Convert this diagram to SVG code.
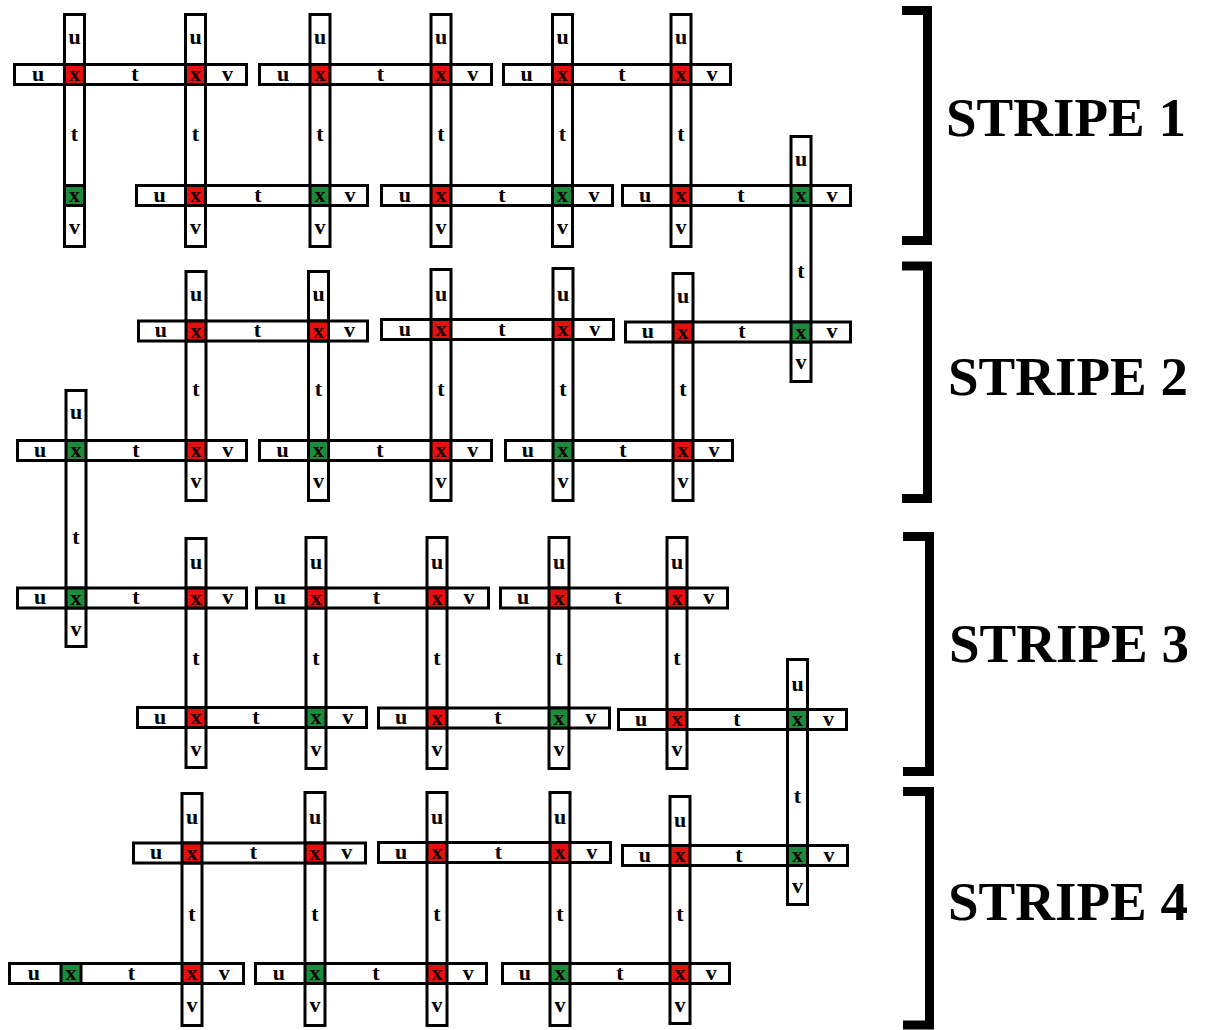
<svg xmlns="http://www.w3.org/2000/svg" width="1210" height="1030" viewBox="0 0 1210 1030">
<style>
.b{fill:#fff;stroke:#000;stroke-width:3}
.r{fill:#e3120f;stroke:#000;stroke-width:3}
.g{fill:#1c8c3c;stroke:#000;stroke-width:3}
text{font-family:"Liberation Serif","Times New Roman",serif;font-weight:bold;fill:#000}
.l{font-size:22px;text-anchor:middle;transform:translate(0px,1px)}
.x{font-size:22px;text-anchor:middle;fill:#1a0000;transform:translate(0px,1.5px)}
.s{font-size:55px}
.k{fill:none;stroke:#000;stroke-width:9;stroke-linejoin:miter}
</style>
<rect width="1210" height="1030" fill="#fff"/>
<!-- vertical bars -->
<g id="vbars">
<g id="v1-1"><rect class="b" x="64.5" y="14.5" width="20" height="232"/><text class="l" x="74.5" y="43">u</text><text class="l" x="74.5" y="140">t</text><text class="l" x="74.5" y="232.5">v</text></g>
<g id="v1-2"><rect class="b" x="185.5" y="14.5" width="20" height="232"/><text class="l" x="195.5" y="43">u</text><text class="l" x="195.5" y="140">t</text><text class="l" x="195.5" y="232.5">v</text></g>
<g id="v1-3"><rect class="b" x="310" y="14.5" width="20" height="232"/><text class="l" x="320" y="43">u</text><text class="l" x="320" y="140">t</text><text class="l" x="320" y="232.5">v</text></g>
<g id="v1-4"><rect class="b" x="431" y="14.5" width="20" height="232"/><text class="l" x="441" y="43">u</text><text class="l" x="441" y="140">t</text><text class="l" x="441" y="232.5">v</text></g>
<g id="v1-5"><rect class="b" x="552.5" y="14.5" width="20" height="232"/><text class="l" x="562.5" y="43">u</text><text class="l" x="562.5" y="140">t</text><text class="l" x="562.5" y="232.5">v</text></g>
<g id="v1-6"><rect class="b" x="671" y="14.5" width="20" height="232"/><text class="l" x="681" y="43">u</text><text class="l" x="681" y="140">t</text><text class="l" x="681" y="232.5">v</text></g>
<g id="v1-7"><rect class="b" x="791" y="136.5" width="20" height="245"/><text class="l" x="801" y="164.5">u</text><text class="l" x="801" y="277">t</text><text class="l" x="801" y="368">v</text></g>

<g id="v2-1"><rect class="b" x="186" y="271.5" width="20" height="229"/><text class="l" x="196" y="300">u</text><text class="l" x="196" y="395">t</text><text class="l" x="196" y="487">v</text></g>
<g id="v2-2"><rect class="b" x="308.5" y="271.5" width="20" height="229"/><text class="l" x="318.5" y="300">u</text><text class="l" x="318.5" y="395">t</text><text class="l" x="318.5" y="487">v</text></g>
<g id="v2-3"><rect class="b" x="431" y="269.5" width="20" height="231"/><text class="l" x="441" y="300">u</text><text class="l" x="441" y="395">t</text><text class="l" x="441" y="487">v</text></g>
<g id="v2-4"><rect class="b" x="553" y="268.5" width="20" height="232"/><text class="l" x="563" y="300">u</text><text class="l" x="563" y="395">t</text><text class="l" x="563" y="487">v</text></g>
<g id="v2-5"><rect class="b" x="673" y="273.5" width="20" height="227"/><text class="l" x="683" y="302">u</text><text class="l" x="683" y="395">t</text><text class="l" x="683" y="487">v</text></g>
<g id="v2-6"><rect class="b" x="66" y="390.5" width="20" height="256"/><text class="l" x="76" y="418">u</text><text class="l" x="76" y="543">t</text><text class="l" x="76" y="635">v</text></g>

<g id="v3-1"><rect class="b" x="186" y="538.5" width="20" height="229"/><text class="l" x="196" y="568">u</text><text class="l" x="196" y="664">t</text><text class="l" x="196" y="755">v</text></g>
<g id="v3-2"><rect class="b" x="306" y="537.5" width="20" height="231"/><text class="l" x="316" y="568">u</text><text class="l" x="316" y="664">t</text><text class="l" x="316" y="755">v</text></g>
<g id="v3-3"><rect class="b" x="427" y="537.5" width="20" height="231"/><text class="l" x="437" y="568">u</text><text class="l" x="437" y="664">t</text><text class="l" x="437" y="755">v</text></g>
<g id="v3-4"><rect class="b" x="549" y="537.5" width="20" height="231"/><text class="l" x="559" y="568">u</text><text class="l" x="559" y="664">t</text><text class="l" x="559" y="755">v</text></g>
<g id="v3-5"><rect class="b" x="667" y="537.5" width="20" height="231"/><text class="l" x="677" y="568">u</text><text class="l" x="677" y="664">t</text><text class="l" x="677" y="755">v</text></g>
<g id="v3-6"><rect class="b" x="787.5" y="659.5" width="20" height="245"/><text class="l" x="797.5" y="690">u</text><text class="l" x="797.5" y="802">t</text><text class="l" x="797.5" y="892">v</text></g>

<g id="v4-1"><rect class="b" x="182" y="793.5" width="20" height="232"/><text class="l" x="192" y="823">u</text><text class="l" x="192" y="920">t</text><text class="l" x="192" y="1011">v</text></g>
<g id="v4-2"><rect class="b" x="305" y="792.5" width="20" height="233"/><text class="l" x="315" y="823">u</text><text class="l" x="315" y="920">t</text><text class="l" x="315" y="1011">v</text></g>
<g id="v4-3"><rect class="b" x="427" y="792.5" width="20" height="233"/><text class="l" x="437" y="823">u</text><text class="l" x="437" y="920">t</text><text class="l" x="437" y="1011">v</text></g>
<g id="v4-4"><rect class="b" x="550" y="792.5" width="20" height="233"/><text class="l" x="560" y="823">u</text><text class="l" x="560" y="920">t</text><text class="l" x="560" y="1011">v</text></g>
<g id="v4-5"><rect class="b" x="670" y="796.5" width="20" height="227"/><text class="l" x="680" y="826">u</text><text class="l" x="680" y="920">t</text><text class="l" x="680" y="1011">v</text></g>
</g>
<!-- horizontal bars -->
<g id="hbars">
<g id="h1-1"><rect class="b" x="14.5" y="64.5" width="232" height="20"/><text class="l" x="38" y="79.5">u</text><text class="l" x="135" y="79.5">t</text><text class="l" x="227.5" y="79.5">v</text></g>
<g id="h1-2"><rect class="b" x="259.5" y="64.5" width="232" height="20"/><text class="l" x="283" y="79.5">u</text><text class="l" x="380.5" y="79.5">t</text><text class="l" x="472.8" y="79.5">v</text></g>
<g id="h1-3"><rect class="b" x="503.5" y="64.5" width="227" height="20"/><text class="l" x="526.5" y="79.5">u</text><text class="l" x="621.8" y="79.5">t</text><text class="l" x="712" y="79.5">v</text></g>
<g id="h1-4"><rect class="b" x="136.5" y="185.5" width="231" height="20"/><text class="l" x="159.5" y="200.5">u</text><text class="l" x="257.8" y="200.5">t</text><text class="l" x="350" y="200.5">v</text></g>
<g id="h1-5"><rect class="b" x="381.5" y="185.5" width="231" height="20"/><text class="l" x="404.8" y="200.5">u</text><text class="l" x="501.8" y="200.5">t</text><text class="l" x="594" y="200.5">v</text></g>
<g id="h1-6"><rect class="b" x="622.5" y="185.5" width="228" height="20"/><text class="l" x="645" y="200.5">u</text><text class="l" x="741" y="200.5">t</text><text class="l" x="832" y="200.5">v</text></g>

<g id="h2-1"><rect class="b" x="138.5" y="321" width="229" height="20"/><text class="l" x="160.8" y="336">u</text><text class="l" x="257.3" y="336">t</text><text class="l" x="349.5" y="336">v</text></g>
<g id="h2-2"><rect class="b" x="381.5" y="319.5" width="232" height="20"/><text class="l" x="404.8" y="334.5">u</text><text class="l" x="502" y="334.5">t</text><text class="l" x="594.8" y="334.5">v</text></g>
<g id="h2-3"><rect class="b" x="625.5" y="322" width="225" height="20"/><text class="l" x="647.8" y="337">u</text><text class="l" x="742" y="337">t</text><text class="l" x="832" y="337">v</text></g>
<g id="h2-4"><rect class="b" x="17.5" y="440.5" width="229" height="20"/><text class="l" x="40" y="455.5">u</text><text class="l" x="136" y="455.5">t</text><text class="l" x="227.8" y="455.5">v</text></g>
<g id="h2-5"><rect class="b" x="259.5" y="440.5" width="232" height="20"/><text class="l" x="282.5" y="455.5">u</text><text class="l" x="379.8" y="455.5">t</text><text class="l" x="472.8" y="455.5">v</text></g>
<g id="h2-6"><rect class="b" x="505.5" y="440.5" width="227" height="20"/><text class="l" x="527.8" y="455.5">u</text><text class="l" x="623" y="455.5">t</text><text class="l" x="714" y="455.5">v</text></g>

<g id="h3-1"><rect class="b" x="17.5" y="588" width="229" height="20"/><text class="l" x="40" y="603">u</text><text class="l" x="136" y="603">t</text><text class="l" x="227.8" y="603">v</text></g>
<g id="h3-2"><rect class="b" x="256.5" y="588" width="232" height="20"/><text class="l" x="279.8" y="603">u</text><text class="l" x="376.5" y="603">t</text><text class="l" x="469" y="603">v</text></g>
<g id="h3-3"><rect class="b" x="500.5" y="588" width="227" height="20"/><text class="l" x="523" y="603">u</text><text class="l" x="618" y="603">t</text><text class="l" x="708.8" y="603">v</text></g>
<g id="h3-4"><rect class="b" x="137.5" y="707.5" width="229" height="20"/><text class="l" x="160" y="722.5">u</text><text class="l" x="256" y="722.5">t</text><text class="l" x="347.8" y="722.5">v</text></g>
<g id="h3-5"><rect class="b" x="378.5" y="708" width="231" height="20"/><text class="l" x="401" y="723">u</text><text class="l" x="498" y="723">t</text><text class="l" x="590.8" y="723">v</text></g>
<g id="h3-6"><rect class="b" x="618.5" y="709.5" width="228" height="20"/><text class="l" x="641" y="724.5">u</text><text class="l" x="737" y="724.5">t</text><text class="l" x="828.5" y="724.5">v</text></g>

<g id="h4-1"><rect class="b" x="133.5" y="843" width="232" height="20"/><text class="l" x="156" y="858">u</text><text class="l" x="253.5" y="858">t</text><text class="l" x="346.8" y="858">v</text></g>
<g id="h4-2"><rect class="b" x="378.5" y="842.5" width="232" height="20"/><text class="l" x="401" y="857.5">u</text><text class="l" x="498.5" y="857.5">t</text><text class="l" x="591.8" y="857.5">v</text></g>
<g id="h4-3"><rect class="b" x="622.5" y="845.5" width="225" height="20"/><text class="l" x="644.8" y="860.5">u</text><text class="l" x="738.8" y="860.5">t</text><text class="l" x="829" y="860.5">v</text></g>
<g id="h4-4"><rect class="b" x="9.5" y="963.5" width="234" height="20"/><text class="l" x="33.8" y="978.5">u</text><text class="l" x="131.5" y="978.5">t</text><text class="l" x="224.3" y="978.5">v</text></g>
<g id="h4-5"><rect class="b" x="255.5" y="963.5" width="231" height="20"/><text class="l" x="278.8" y="978.5">u</text><text class="l" x="376" y="978.5">t</text><text class="l" x="468.3" y="978.5">v</text></g>
<g id="h4-6"><rect class="b" x="502.5" y="963.5" width="227" height="20"/><text class="l" x="524.8" y="978.5">u</text><text class="l" x="620" y="978.5">t</text><text class="l" x="711.3" y="978.5">v</text></g>
</g>
<!-- x cells -->
<g id="cells">
<g id="c1"><rect class="r" x="64.5" y="64.5" width="20" height="20"/><text class="x" x="74.5" y="79.5">x</text></g>
<g id="c2"><rect class="r" x="185.5" y="64.5" width="20" height="20"/><text class="x" x="195.5" y="79.5">x</text></g>
<g id="c3"><rect class="r" x="310" y="64.5" width="20" height="20"/><text class="x" x="320" y="79.5">x</text></g>
<g id="c4"><rect class="r" x="431" y="64.5" width="20" height="20"/><text class="x" x="441" y="79.5">x</text></g>
<g id="c5"><rect class="r" x="552.5" y="64.5" width="20" height="20"/><text class="x" x="562.5" y="79.5">x</text></g>
<g id="c6"><rect class="r" x="671" y="64.5" width="20" height="20"/><text class="x" x="681" y="79.5">x</text></g>
<g id="c7"><rect class="g" x="64.5" y="185.5" width="20" height="20"/><text class="x" x="74.5" y="200.5">x</text></g>
<g id="c8"><rect class="r" x="185.5" y="185.5" width="20" height="20"/><text class="x" x="195.5" y="200.5">x</text></g>
<g id="c9"><rect class="g" x="310" y="185.5" width="20" height="20"/><text class="x" x="320" y="200.5">x</text></g>
<g id="c10"><rect class="r" x="431" y="185.5" width="20" height="20"/><text class="x" x="441" y="200.5">x</text></g>
<g id="c11"><rect class="g" x="552.5" y="185.5" width="20" height="20"/><text class="x" x="562.5" y="200.5">x</text></g>
<g id="c12"><rect class="r" x="671" y="185.5" width="20" height="20"/><text class="x" x="681" y="200.5">x</text></g>
<g id="c13"><rect class="g" x="791" y="185.5" width="20" height="20"/><text class="x" x="801" y="200.5">x</text></g>

<g id="c14"><rect class="r" x="186" y="321" width="20" height="20"/><text class="x" x="196" y="336">x</text></g>
<g id="c15"><rect class="r" x="308.5" y="321" width="20" height="20"/><text class="x" x="318.5" y="336">x</text></g>
<g id="c16"><rect class="r" x="431" y="319.5" width="20" height="20"/><text class="x" x="441" y="334.5">x</text></g>
<g id="c17"><rect class="r" x="553" y="319.5" width="20" height="20"/><text class="x" x="563" y="334.5">x</text></g>
<g id="c18"><rect class="r" x="673" y="322" width="20" height="20"/><text class="x" x="683" y="337">x</text></g>
<g id="c19"><rect class="g" x="791" y="322" width="20" height="20"/><text class="x" x="801" y="337">x</text></g>
<g id="c20"><rect class="g" x="66" y="440.5" width="20" height="20"/><text class="x" x="76" y="455.5">x</text></g>
<g id="c21"><rect class="r" x="186" y="440.5" width="20" height="20"/><text class="x" x="196" y="455.5">x</text></g>
<g id="c22"><rect class="g" x="308.5" y="440.5" width="20" height="20"/><text class="x" x="318.5" y="455.5">x</text></g>
<g id="c23"><rect class="r" x="431" y="440.5" width="20" height="20"/><text class="x" x="441" y="455.5">x</text></g>
<g id="c24"><rect class="g" x="553" y="440.5" width="20" height="20"/><text class="x" x="563" y="455.5">x</text></g>
<g id="c25"><rect class="r" x="673" y="440.5" width="20" height="20"/><text class="x" x="683" y="455.5">x</text></g>

<g id="c26"><rect class="g" x="66" y="588" width="20" height="20"/><text class="x" x="76" y="603">x</text></g>
<g id="c27"><rect class="r" x="186" y="588" width="20" height="20"/><text class="x" x="196" y="603">x</text></g>
<g id="c28"><rect class="r" x="306" y="588" width="20" height="20"/><text class="x" x="316" y="603">x</text></g>
<g id="c29"><rect class="r" x="427" y="588" width="20" height="20"/><text class="x" x="437" y="603">x</text></g>
<g id="c30"><rect class="r" x="549" y="588" width="20" height="20"/><text class="x" x="559" y="603">x</text></g>
<g id="c31"><rect class="r" x="667" y="588" width="20" height="20"/><text class="x" x="677" y="603">x</text></g>
<g id="c32"><rect class="r" x="186" y="707.5" width="20" height="20"/><text class="x" x="196" y="722.5">x</text></g>
<g id="c33"><rect class="g" x="306" y="707.5" width="20" height="20"/><text class="x" x="316" y="722.5">x</text></g>
<g id="c34"><rect class="r" x="427" y="708" width="20" height="20"/><text class="x" x="437" y="723">x</text></g>
<g id="c35"><rect class="g" x="549" y="708" width="20" height="20"/><text class="x" x="559" y="723">x</text></g>
<g id="c36"><rect class="r" x="667" y="709.5" width="20" height="20"/><text class="x" x="677" y="724.5">x</text></g>
<g id="c37"><rect class="g" x="787.5" y="709.5" width="20" height="20"/><text class="x" x="797.5" y="724.5">x</text></g>

<g id="c38"><rect class="r" x="182" y="843" width="20" height="20"/><text class="x" x="192" y="858">x</text></g>
<g id="c39"><rect class="r" x="305" y="843" width="20" height="20"/><text class="x" x="315" y="858">x</text></g>
<g id="c40"><rect class="r" x="427" y="842.5" width="20" height="20"/><text class="x" x="437" y="857.5">x</text></g>
<g id="c41"><rect class="r" x="550" y="842.5" width="20" height="20"/><text class="x" x="560" y="857.5">x</text></g>
<g id="c42"><rect class="r" x="670" y="845.5" width="20" height="20"/><text class="x" x="680" y="860.5">x</text></g>
<g id="c43"><rect class="g" x="787.5" y="845.5" width="20" height="20"/><text class="x" x="797.5" y="860.5">x</text></g>
<g id="c44"><rect class="g" x="61" y="963.5" width="20" height="20"/><text class="x" x="71" y="978.5">x</text></g>
<g id="c45"><rect class="r" x="182" y="963.5" width="20" height="20"/><text class="x" x="192" y="978.5">x</text></g>
<g id="c46"><rect class="g" x="305" y="963.5" width="20" height="20"/><text class="x" x="315" y="978.5">x</text></g>
<g id="c47"><rect class="r" x="427" y="963.5" width="20" height="20"/><text class="x" x="437" y="978.5">x</text></g>
<g id="c48"><rect class="g" x="550" y="963.5" width="20" height="20"/><text class="x" x="560" y="978.5">x</text></g>
<g id="c49"><rect class="r" x="670" y="963.5" width="20" height="20"/><text class="x" x="680" y="978.5">x</text></g>
</g>
<!-- stripe brackets and labels -->
<g id="stripe1"><path class="k" d="M902,10.5H927.5V240.5H902"/><text class="s" x="946" y="136">STRIPE 1</text></g>
<g id="stripe2"><path class="k" d="M902,266H927.5V498.5H902"/><text class="s" x="948" y="395">STRIPE 2</text></g>
<g id="stripe3"><path class="k" d="M903,536.5H929.5V771.5H903"/><text class="s" x="949" y="662">STRIPE 3</text></g>
<g id="stripe4"><path class="k" d="M903,791.5H929.5V1025H903"/><text class="s" x="948" y="920">STRIPE 4</text></g>
</svg>
